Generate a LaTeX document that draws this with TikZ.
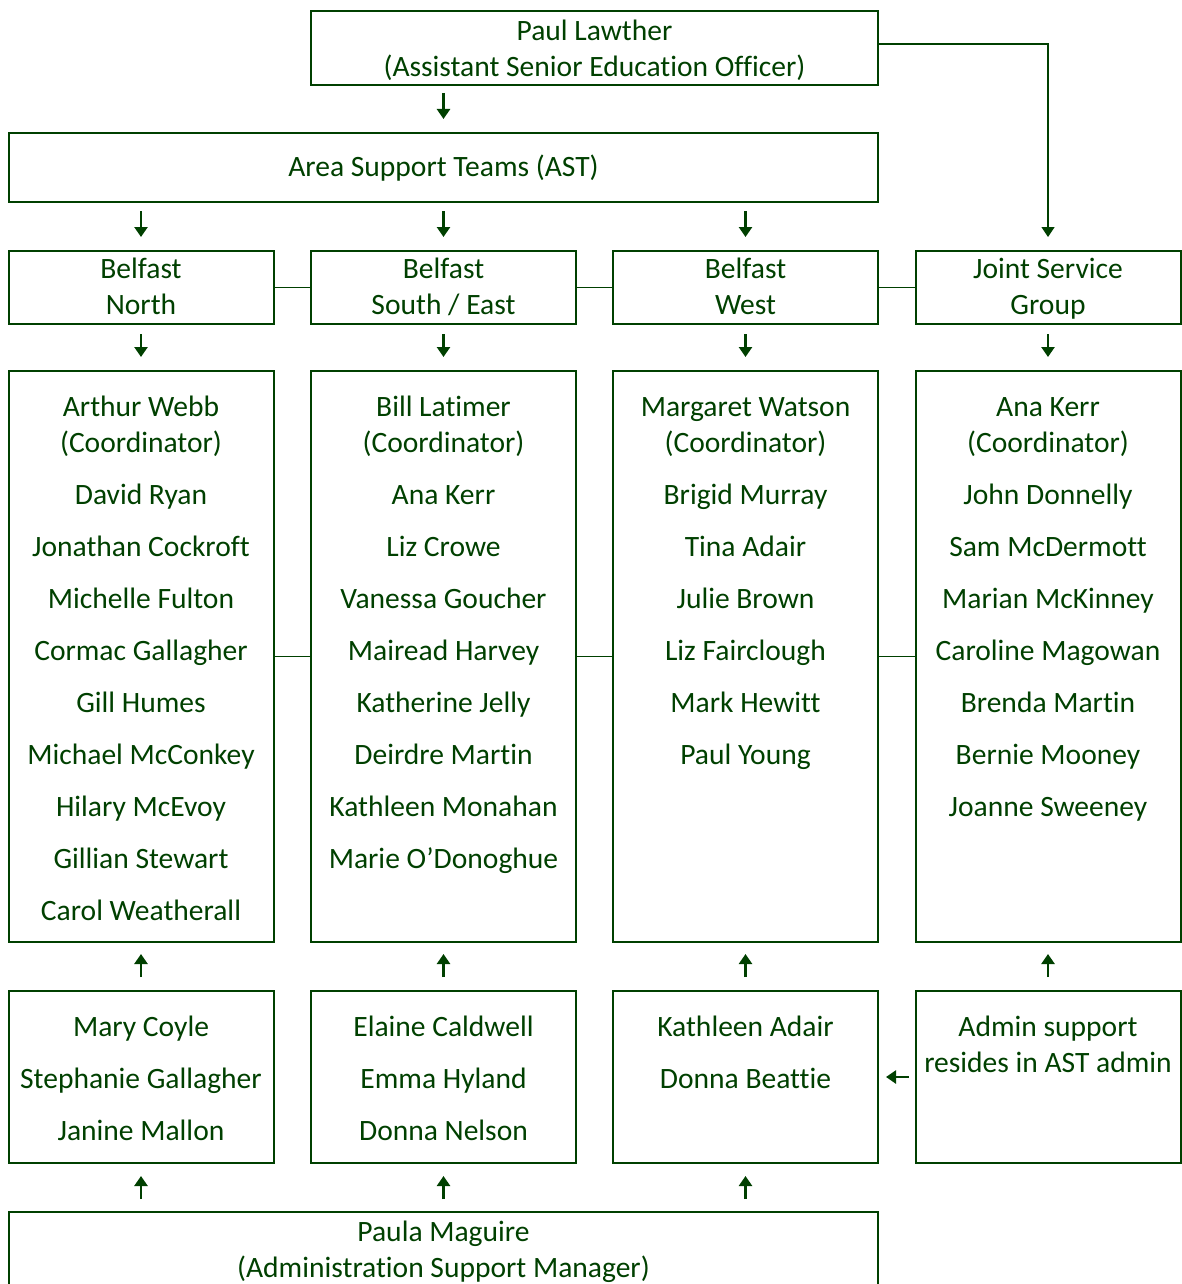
\documentclass[tikz,border=0pt]{standalone}
\usepackage{fontspec}
\setmainfont{Carlito}[Ligatures=NoCommon]
\usetikzlibrary{arrows.meta}
\definecolor{ebgreen}{RGB}{0,64,0}
\newcommand{\tp}[1]{\rule{0pt}{#1pt}}
\newcommand{\bt}[1]{\rule[-#1pt]{0pt}{#1pt}}
\tikzset{
  box/.style={draw=ebgreen, line width=1pt, text=ebgreen, align=center,
    inner sep=0pt, font=\fontsize{14.77}{18}\selectfont},
  lst/.style={text=ebgreen, align=center, anchor=north, inner sep=0pt,
    font=\fontsize{14.77}{18}\selectfont},
  arr/.style={-{Triangle[width=6.5pt,length=5pt]}, line width=1.3pt, draw=ebgreen},
  link/.style={line width=0.9pt, draw=ebgreen},
}
\begin{document}
\begin{tikzpicture}[x=0.5pt, y=-0.5pt]
  \useasboundingbox (0,0) rectangle (1182,1284);
  %--- top of the chart ---
  \node[box, minimum width=283.5pt, minimum height=37pt] (paul) at (594.5,48)
    {\tp{14.75}Paul Lawther\\(Assistant Senior Education Officer)\bt{4.25}};
  \node[box, minimum width=434.5pt, minimum height=34.5pt] (ast) at (443.5,167.5)
    {\tp{14.4}Area Support Teams (AST)\strut};
  %--- area teams ---
  \node[box, minimum width=132.5pt, minimum height=36.5pt] (bn) at (141,287.5)
    {\tp{13.75}Belfast\\North\bt{4.75}};
  \node[box, minimum width=132.5pt, minimum height=36.5pt] (bse) at (443.5,287.5)
    {\tp{13.75}Belfast\\South / East\bt{4.75}};
  \node[box, minimum width=132.5pt, minimum height=36.5pt] (bw) at (745.5,287.5)
    {\tp{13.75}Belfast\\West\bt{4.75}};
  \node[box, minimum width=132.5pt, minimum height=36.5pt] (jsg) at (1048,287.5)
    {\tp{13.75}Joint Service\\Group\bt{4.75}};
  %--- empty frames for staff and admin ---
  \foreach \id/\x in {bn/141, bse/443.5, bw/745.5, jsg/1048} {
    \node[box, minimum width=132.5pt, minimum height=285.5pt] (t\id) at (\x,656.5) {};
    \node[box, minimum width=132.5pt, minimum height=86pt] (a\id) at (\x,1077) {};
  }
  %--- staff lists ---
  \node[lst] (ltbn) at (141,391)
    {\strut Arthur Webb\\(Coordinator)\\[8pt]David Ryan\\[8pt]Jonathan Cockroft\\[8pt]
     Michelle Fulton\\[8pt]Cormac Gallagher\\[8pt]Gill Humes\\[8pt]Michael McConkey\\[8pt]
     Hilary McEvoy\\[8pt]Gillian Stewart\\[8pt]Carol Weatherall};
  \node[lst] (ltbse) at (443.5,391)
    {\strut Bill Latimer\\(Coordinator)\\[8pt]Ana Kerr\\[8pt]Liz Crowe\\[8pt]
     Vanessa Goucher\\[8pt]Mairead Harvey\\[8pt]Katherine Jelly\\[8pt]Deirdre Martin\\[8pt]
     Kathleen Monahan\\[8pt]Marie O’Donoghue};
  \node[lst] (ltbw) at (745.5,391)
    {\strut Margaret Watson\\(Coordinator)\\[8pt]Brigid Murray\\[8pt]Tina Adair\\[8pt]
     Julie Brown\\[8pt]Liz Fairclough\\[8pt]Mark Hewitt\\[8pt]Paul Young};
  \node[lst] (ltjsg) at (1048,391)
    {\strut Ana Kerr\\(Coordinator)\\[8pt]John Donnelly\\[8pt]Sam McDermott\\[8pt]
     Marian McKinney\\[8pt]Caroline Magowan\\[8pt]Brenda Martin\\[8pt]Bernie Mooney\\[8pt]
     Joanne Sweeney};
  %--- admin lists ---
  \node[lst] (labn) at (141,1011)
    {\strut Mary Coyle\\[8pt]Stephanie Gallagher\\[8pt]Janine Mallon};
  \node[lst] (labse) at (443.5,1011)
    {\strut Elaine Caldwell\\[8pt]Emma Hyland\\[8pt]Donna Nelson};
  \node[lst] (labw) at (745.5,1011)
    {\strut Kathleen Adair\\[8pt]Donna Beattie};
  \node[lst] (lajsg) at (1048,1011)
    {\strut Admin support\\resides in AST admin};
  %--- bottom ---
  \node[box, minimum width=434.5pt, minimum height=37pt] (paula) at (443.5,1249)
    {\tp{14.75}Paula Maguire\\(Administration Support Manager)\bt{4.25}};
  %--- links between columns ---
  \draw[link] (bn.east) -- (bse.west);
  \draw[link] (bse.east) -- (bw.west);
  \draw[link] (bw.east) -- (jsg.west);
  \draw[link] (tbn.east) -- (tbse.west);
  \draw[link] (tbse.east) -- (tbw.west);
  \draw[link] (tbw.east) -- (tjsg.west);
  %--- arrows ---
  \draw[arr, shorten <=3.5pt, shorten >=6.5pt] (bse.north |- paul.south) -- (bse.north |- ast.north);
  \draw[arr, line width=0.7pt, shorten >=6.5pt] ([yshift=2pt]paul.east) -| (jsg.north);
  \foreach \id in {bn,bse,bw}
    \draw[arr, shorten <=4pt, shorten >=6.5pt] (\id.north |- ast.south) -- (\id.north);
  \foreach \id in {bn,bse,bw,jsg}
    \draw[arr, shorten <=4.5pt, shorten >=6.5pt] (\id.south) -- (t\id.north);
  \foreach \id in {bn,bse,bw,jsg}
    \draw[arr, shorten <=6.5pt, shorten >=5.5pt] (a\id.north) -- (t\id.south);
  \foreach \id in {bn,bse,bw}
    \draw[arr, shorten <=6pt, shorten >=6pt] (a\id.south |- paula.north) -- (a\id.south);
  \draw[arr, shorten <=3pt, shorten >=3.5pt] (ajsg.west) -- (abw.east);
\end{tikzpicture}
\end{document}
